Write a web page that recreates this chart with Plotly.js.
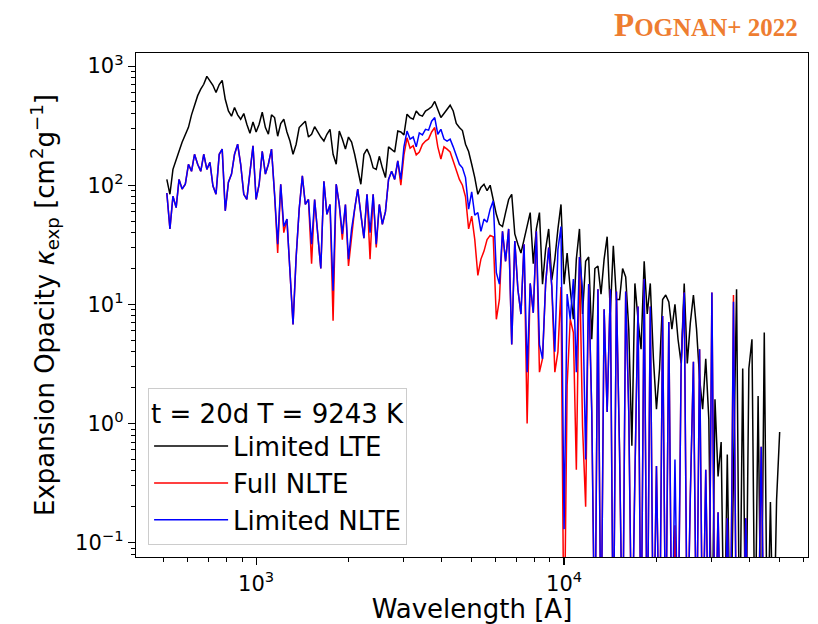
<!DOCTYPE html>
<html>
<head>
<meta charset="utf-8">
<script src="https://cdn.plot.ly/plotly-3.0.1.min.js"></script>
<style>html,body{margin:0;padding:0;background:#fff;}#chart{width:818px;height:624px;}</style>
</head>
<body>
<div id="chart"></div>
<script>
// Wavelength grid [A]
const wavelength = [
513, 525, 537, 550, 562, 575, 589, 603, 617, 631,
646, 661, 676, 692, 708, 724, 741, 759, 776, 794,
813, 832, 851, 871, 891, 912, 933, 955, 977, 1000,
1023, 1047, 1072, 1096, 1122, 1148, 1175, 1202, 1230, 1259,
1288, 1318, 1349, 1380, 1413, 1445, 1479, 1514, 1549, 1585,
1622, 1660, 1698, 1738, 1778, 1820, 1862, 1905, 1950, 1995,
2042, 2089, 2138, 2188, 2239, 2291, 2344, 2399, 2455, 2512,
2570, 2630, 2692, 2754, 2818, 2884, 2951, 3020, 3090, 3162,
3236, 3311, 3388, 3467, 3548, 3631, 3715, 3802, 3890, 3981,
4074, 4169, 4266, 4365, 4467, 4571, 4677, 4786, 4898, 5012,
5129, 5248, 5370, 5495, 5623, 5754, 5888, 6026, 6166, 6310,
6457, 6607, 6761, 6918, 7079, 7244, 7413, 7586, 7762, 7943,
8128, 8318, 8511, 8710, 8913, 9120, 9333, 9550, 9772, 10000,
10230, 10470, 10720, 10960, 11220, 11480, 11750, 12020, 12300, 12590,
12880, 13180, 13490, 13800, 14130, 14450, 14790, 15140, 15490, 15850,
16220, 16600, 16980, 17380, 17780, 18200, 18620, 19050, 19500, 19950,
20420, 20890, 21380, 21880, 22390, 22910, 23440, 23990, 24550, 25120,
25700, 26300, 26920, 27540, 28180, 28840, 29510, 30200, 30900, 31620,
32360, 33110, 33880, 34670, 35480, 36310, 37150, 38020, 38900, 39810,
40740, 41690, 42660, 43650, 44670, 45710, 46770, 47860, 48980, 50120
];

// Limited LTE (black)
const limitedLTE = [
112, 84, 136, 160, 193, 230, 268, 306, 390, 470,
565, 640, 704, 820, 760, 690, 600, 700, 760, 527,
420, 380, 450, 390, 358, 400, 325, 273, 340, 280,
325, 410, 305, 268, 390, 370, 258, 330, 358, 280,
235, 182, 221, 305, 325, 345, 254, 268, 310, 280,
254, 235, 268, 295, 182, 150, 285, 244, 201, 254,
230, 182, 136, 102, 182, 201, 175, 140, 136, 175,
140, 116, 210, 201, 190, 285, 280, 265, 395, 370,
358, 420, 390, 380, 420, 435, 455, 505, 435, 370,
400, 435, 470, 420, 330, 305, 288, 221, 192, 150,
116, 84, 96, 102, 90, 100, 76, 57, 47, 45,
59, 76, 84, 39, 32, 27, 35, 47, 59, 22,
43, 59, 14.8, 29, 43, 16, 24, 43, 69, 14.8,
27, 13.4, 7.5, 24, 43, 8.3, 23, 25, 5.1, 20,
21, 12.2, 24, 37, 8.5, 31, 11, 11, 20, 17,
6.2, 0.65, 15, 7.5, 4.2, 23, 8.3, 15, 3.5, 1.32,
2.9, 11, 12, 10.5, 6.2, 10, 5.1, 3.2, 15, 3.2,
7, 12, 6.2, 2.4, 1.32, 3.5, 1.09, 0.01, 1.6, 0.36,
0.7, 0.01, 0.55, 0.01, 0.34, 13.4, 0.01, 2.9, 0.01, 2.9,
5.1, 0.01, 1.7, 0.01, 5.8, 0.01, 0.22, 0.01, 0.23, 0.85
];

// Full NLTE (red)
const fullNLTE = [
86, 43, 81, 65, 112, 93, 102, 150, 131, 182,
150, 131, 182, 136, 156, 99, 84, 182, 201, 61,
106, 124, 182, 221, 150, 84, 76, 131, 214, 76,
102, 193, 124, 150, 201, 84, 27, 102, 40, 52,
18, 6.8, 25, 63, 120, 69, 76, 22, 76, 39,
20, 108, 57, 69, 7.3, 102, 69, 35, 69, 21,
38, 63, 93, 57, 36, 84, 24, 84, 30, 69,
47, 60, 112, 131, 112, 160, 100, 180, 250, 205,
215, 180, 190, 220, 235, 245, 280, 305, 210, 166,
210, 201, 190, 160, 135, 112, 100, 80, 43, 55,
35, 17.5, 24, 28, 35, 38, 37, 7.5, 11, 41,
23, 43, 4.6, 34, 13.4, 8.3, 32, 1.0, 15, 8.5,
41, 2.7, 3.5, 14.8, 30, 14.3, 2.7, 4.0, 14, 0.01,
2.1, 7.5, 5.8, 0.41, 25, 0.95, 0.2, 14.8, 1.25, 0.01,
13.4, 0.01, 9.1, 1.25, 13.4, 0.01, 12.8, 0.58, 0.01, 12.8,
1.25, 0.01, 0.36, 9.6, 0.01, 16.3, 0.01, 9.6, 0.01, 0.44,
0.01, 8, 0.01, 7.1, 0.01, 0.14, 0.01, 3.0, 12.6, 0.01,
0.25, 3.3, 0.01, 4.2, 0.01, 0.41, 0.01, 12.6, 0.01, 0.18,
0.01, 0.01, 0.16, 0.01, 12, 0.01, 0.01, 0.01, 0.16, 0.01,
0.01, 0.01, 0.01, 0.64, 0.01, 0.01, 0.01, 0.01, 0.01, 0.01
];

// Limited NLTE (blue)
const limitedNLTE = [
86, 43, 81, 65, 112, 93, 102, 150, 131, 182,
150, 131, 182, 136, 156, 99, 84, 182, 201, 61,
106, 124, 182, 221, 150, 84, 76, 131, 214, 76,
102, 193, 124, 150, 201, 84, 32, 102, 45, 52,
18, 6.8, 25, 63, 120, 69, 76, 32, 76, 39,
20, 108, 57, 69, 13, 102, 69, 39, 69, 24,
43, 63, 93, 57, 36, 84, 40, 84, 32, 69,
47, 60, 112, 131, 112, 160, 112, 210, 285, 244,
254, 210, 275, 265, 295, 290, 345, 370, 268, 295,
244, 235, 244, 210, 175, 150, 140, 116, 63, 88,
56, 59, 41, 52, 49, 63, 74, 18.5, 14.8, 41,
23, 43, 4.6, 34, 13.4, 8.3, 32, 2.7, 15, 8.5,
41, 4.6, 3.5, 14.8, 30, 14.3, 4.0, 29, 45, 0.13,
12.2, 7.5, 16.3, 2.7, 25, 13.4, 0.5, 14.8, 1.25, 0.01,
13.4, 0.01, 9.1, 1.25, 13.4, 0.01, 12.8, 0.58, 0.01, 12.8,
1.25, 0.01, 0.36, 9.6, 0.01, 16.3, 0.01, 9.6, 0.01, 0.44,
0.01, 8, 0.01, 7.1, 0.01, 0.5, 0.01, 3.0, 12.6, 0.01,
0.25, 3.3, 0.01, 4.2, 0.01, 0.41, 0.01, 12.6, 0.01, 0.18,
0.01, 0.01, 0.16, 0.01, 10.5, 0.01, 0.01, 0.01, 0.16, 0.01,
0.01, 0.01, 0.01, 0.64, 0.01, 0.01, 0.01, 0.01, 0.01, 0.01
];

const seriesNames = ['Limited LTE', 'Full NLTE', 'Limited NLTE'];
const seriesColors = ['#000000', '#ff0000', '#0000ff'];
const legendTitle = 't = 20d T = 9243 K';

const xTickVals = [1000, 10000];
const xTickText = ['10<sup>3</sup>', '10<sup>4</sup>'];
const xMinorVals = [500, 600, 700, 800, 900, 2000, 3000, 4000, 5000, 6000, 7000, 8000, 9000, 20000, 30000, 40000, 50000, 60000];
const yTickVals = [0.1, 1, 10, 100, 1000];
const yTickText = ['10<sup>\u22121</sup>', '10<sup>0</sup>', '10<sup>1</sup>', '10<sup>2</sup>', '10<sup>3</sup>'];
const yMinorVals = [0.08, 0.09, 0.2, 0.3, 0.4, 0.5, 0.6, 0.7, 0.8, 0.9, 2, 3, 4, 5, 6, 7, 8, 9,
  20, 30, 40, 50, 60, 70, 80, 90, 200, 300, 400, 500, 600, 700, 800, 900];

const FONT = 'DejaVu Sans, Liberation Sans, sans-serif';
const ys = [limitedLTE, fullNLTE, limitedNLTE];

const traces = ys.map((y, k) => ({
  type: 'scatter', mode: 'lines',
  x: wavelength, y: y,
  name: seriesNames[k],
  line: {color: seriesColors[k], width: 1.5},
  hoverinfo: 'skip'
}));

const axisCommon = {
  type: 'log', showgrid: false, zeroline: false,
  showline: true, mirror: true, linecolor: '#000', linewidth: 1.3,
  ticks: 'outside', ticklen: 7, tickwidth: 1.2, tickcolor: '#000',
  tickfont: {family: FONT, size: 21, color: '#000'},
  tickmode: 'array'
};

const layout = {
  width: 818, height: 624,
  margin: {l: 136, r: 10, t: 53, b: 67},
  paper_bgcolor: '#fff', plot_bgcolor: '#fff',
  font: {family: FONT, color: '#000'},
  showlegend: true,
  xaxis: Object.assign({}, axisCommon, {
    range: [2.610, 4.792],
    tickvals: xTickVals, ticktext: xTickText,
    minor: {tickmode: 'array', tickvals: xMinorVals, ticks: 'outside', ticklen: 4, tickwidth: 1, tickcolor: '#000', showgrid: false},
    title: {text: 'Wavelength [A]', font: {family: FONT, size: 26, color: '#000'}, standoff: 4}
  }),
  yaxis: Object.assign({}, axisCommon, {
    range: [-1.12, 3.11],
    tickvals: yTickVals, ticktext: yTickText,
    minor: {tickmode: 'array', tickvals: yMinorVals, ticks: 'outside', ticklen: 4, tickwidth: 1, tickcolor: '#000', showgrid: false},
    title: {text: 'Expansion Opacity <i>\u03ba</i><sub>exp</sub> [cm<sup>2</sup>g<sup>\u22121</sup>]', font: {family: FONT, size: 26, color: '#000'}, standoff: 13}
  }),
  legend: {
    x: 0.018, y: 0.024, xanchor: 'left', yanchor: 'bottom',
    bgcolor: 'rgba(255,255,255,0.85)', bordercolor: '#cccccc', borderwidth: 1,
    font: {family: FONT, size: 26, color: '#000'},
    itemwidth: 74,
    title: {text: legendTitle, side: 'top center', font: {family: FONT, size: 26, color: '#000'}},
    traceorder: 'normal'
  },
  annotations: [{
    xref: 'paper', yref: 'paper', x: 0.988, y: 1.056, xanchor: 'right', yanchor: 'middle',
    showarrow: false,
    text: '<b>P<span style="font-size:25px">OGNAN+ 2022</span></b>',
    font: {family: 'Liberation Serif, DejaVu Serif, serif', size: 33, color: '#EE7D31'}
  }]
};

Plotly.newPlot('chart', traces, layout, {displayModeBar: false, staticPlot: true});
</script>
</body>
</html>
